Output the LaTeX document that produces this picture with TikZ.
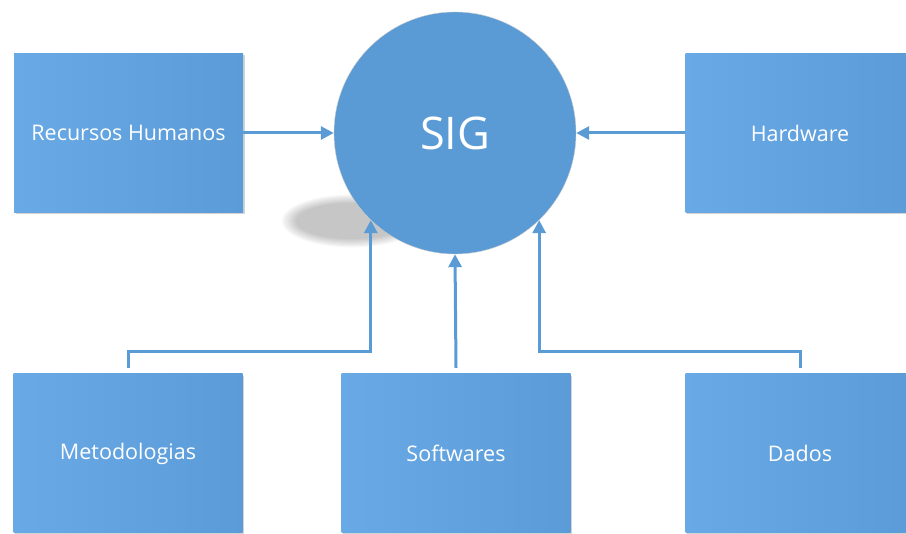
\documentclass[tikz,border=0pt]{standalone}
\usepackage{fontspec}
\setmainfont{Open Sans}
\usepackage{xcolor}
\usetikzlibrary{arrows.meta,shadows}

\definecolor{sigblue}{HTML}{5B9BD5}
\definecolor{boxlight}{HTML}{69A9E6}
\definecolor{boxdark}{HTML}{5B9CD8}

\begin{document}
\begin{tikzpicture}[
        x=1pt, y=-1pt,
        part/.style={rectangle, left color=boxlight, right color=boxdark, minimum width=229pt, minimum height=159pt, align=center, text=white, font=\fontsize{21.5}{26}\selectfont, drop shadow={shadow xshift=1.5pt, shadow yshift=-2pt, opacity=0.35}},
        core/.style={circle, fill=sigblue, draw=gray!40, minimum size=242pt, inner sep=0pt, text=white, font=\fontsize{45}{52}\selectfont},
        arrow/.style={-{Triangle[length=13pt,width=13pt]}, draw=sigblue, line width=3pt}
    ]
        \useasboundingbox (0,0) rectangle (906,534);
        \clip (0,0) rectangle (906,534);

        % soft shadow under the circle
        \foreach \k in {0,...,7}
            \fill[black, opacity=0.03] (352,221) ellipse [x radius={56pt+2*\k pt}, y radius={18pt+1.2*\k pt}];

        % Centre
        \node[core] (sig) at (455,133) {SIG};

        % Top row
        \node[part] (rh) at (128.5,133) {Recursos Humanos};
        \node[part] (hw) at (800,133) {Hardware};

        % Bottom row
        \node[part] (met) at (128,453.5) {Metodologias};
        \node[part] (sw) at (456,453.5) {Softwares};
        \node[part] (dad) at (800,453.5) {Dados};

        % Arrows
        \draw[arrow] (rh) -- (sig);
        \draw[arrow] (hw) -- (sig);
        \draw[arrow] ([yshift=6pt]met.north) -- ++(0,-16) -| (sig.226);
        \draw[arrow] ([yshift=6pt]sw.north) -- (sig.south);
        \draw[arrow] ([yshift=6pt]dad.north) -- ++(0,-16) -| (sig.314);
    \end{tikzpicture}
\end{document}
